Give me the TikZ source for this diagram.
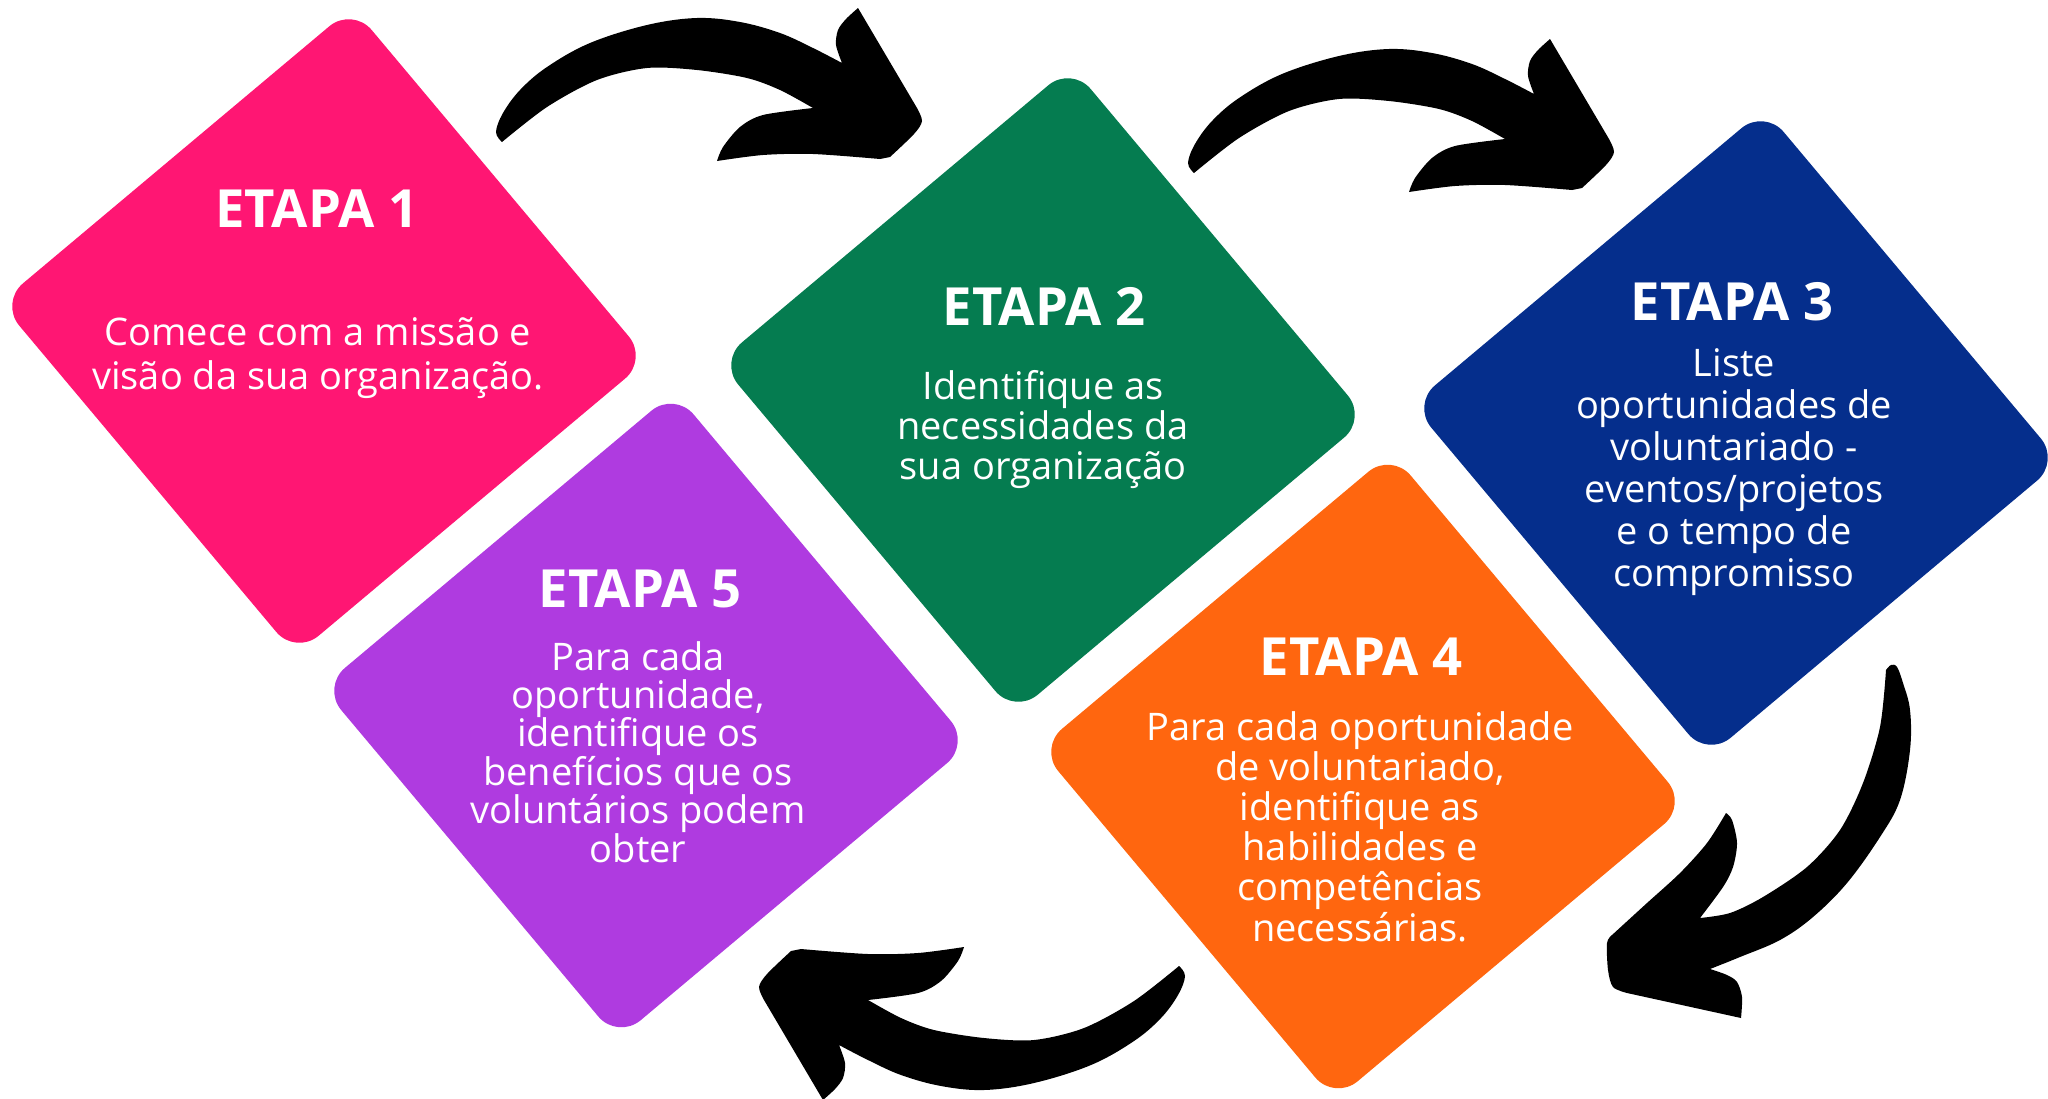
\documentclass[tikz,border=0pt]{standalone}
\usepackage{fontspec}
\setmainfont{Open Sans}
\definecolor{etapapink}{HTML}{FF1673}
\definecolor{etapagreen}{HTML}{057C50}
\definecolor{etapanavy}{HTML}{052E8C}
\definecolor{etapaorange}{HTML}{FF660F}
\definecolor{etapapurple}{HTML}{AF3BE0}

\begin{document}
\begin{tikzpicture}[x=0.5pt,y=-0.5pt,
  tile/.style={rectangle,minimum size=230pt,rounded corners=15pt,rotate=40,inner sep=0pt,outer sep=0pt},
  title/.style={text=white,font=\bfseries\fontsize{26.3}{30}\selectfont,anchor=base,inner sep=0pt},
  body/.style={text=white,font={\fontsize{19}{#1}\selectfont\lineskiplimit=-100pt},align=center,anchor=base,inner sep=0pt},
  body/.default=20.5,
  swoosh/.pic={
    \fill plot[smooth,tension=.6] coordinates{(2,0) (-4,-10) (3,-29) (20,-52) (47,-75) (90,-99) (147,-117) (197,-124) (240,-120) (280,-109) (313,-94) (342,-79)}
      -- plot[smooth] coordinates{(342,-79) (336,-97) (338,-112) (346,-123) (358,-134)}
      -- plot[smooth] coordinates{(417,-34) (422,-21) (414,-8) (390,15)}
      -- plot[smooth] coordinates{(380,17) (313,12) (263,13) (217,19)}
      -- plot[smooth] coordinates{(217,19) (223,5) (240,-15) (263,-27) (313,-34)}
      -- plot[smooth] coordinates{(313,-34) (280,-52) (247,-64) (197,-72) (147,-74) (97,-62) (47,-35) (2,0)} -- cycle;},
  curl/.pic={
    \fill plot[smooth,tension=.6] coordinates{(0,2) (5,-3) (11,-1) (17,15) (24,42) (24,82) (14,132) (-6,169) (-39,215) (-73,249) (-106,272) (-146,289) (-176,301)}
      -- plot[smooth] coordinates{(-176,301) (-159,307) (-149,314) (-144,329) (-145,350)}
      -- plot[smooth] coordinates{(-259,325) (-273,319) (-278,302) (-279,275) (-274,267)}
      -- plot[smooth] coordinates{(-274,267) (-239,235) (-206,205) (-179,175) (-160,145)}
      -- plot[smooth] coordinates{(-160,145) (-154,152) (-149,175) (-153,199) (-163,219) (-186,250)}
      -- plot[smooth] coordinates{(-186,250) (-156,245) (-123,229) (-79,199) (-46,162) (-23,115) (-6,59) (0,2)} -- cycle;}]

\useasboundingbox (0,0) rectangle (2048,1098);

\node[tile,fill=etapapink](s1) at (324,331){};
\node[tile,fill=etapagreen](s2) at (1043,390){};
\node[tile,fill=etapanavy](s3) at (1736,433){};
\node[tile,fill=etapaorange](s4) at (1363,776.5){};
\node[tile,fill=etapapurple](s5) at (646,715.5){};

\node[title](h1) at (317,227){ETAPA 1};
\node[body=22](b1) at (318,389){Comece com a missão e\\visão da sua organização.};
\node[title](h2) at (1044,325){ETAPA 2};
\node[body=20](b2) at (1043,479){Identifique as\\necessidades da\\sua organização};
\node[title](h3) at (1732,320){ETAPA 3};
\node[body=21](b3) at (1734,586.5){Liste\\oportunidades de\\voluntariado -\\eventos/projetos\\e o tempo de\\compromisso};
\node[title](h4) at (1361,675){ETAPA 4};
\node[body=20.1](b4) at (1360,941){Para cada oportunidade\\de voluntariado,\\identifique as\\habilidades e\\competências\\necessárias.};
\node[title](h5) at (640,607.6){ETAPA 5};
\node[body=19.2](b5) at (638,862){Para cada\\oportunidade,\\identifique os\\benefícios que os\\voluntários podem\\obter};

\coordinate (t1) at (500,142);
\coordinate (t2) at (1192,173);
\coordinate (t3) at (1886,668);
\coordinate (t4) at (1181,966);
\pic at (t1) {swoosh};
\pic at (t2) {swoosh};
\pic at (t3) {curl};
\pic[rotate=180] at (t4) {swoosh};

\end{tikzpicture}
\end{document}
